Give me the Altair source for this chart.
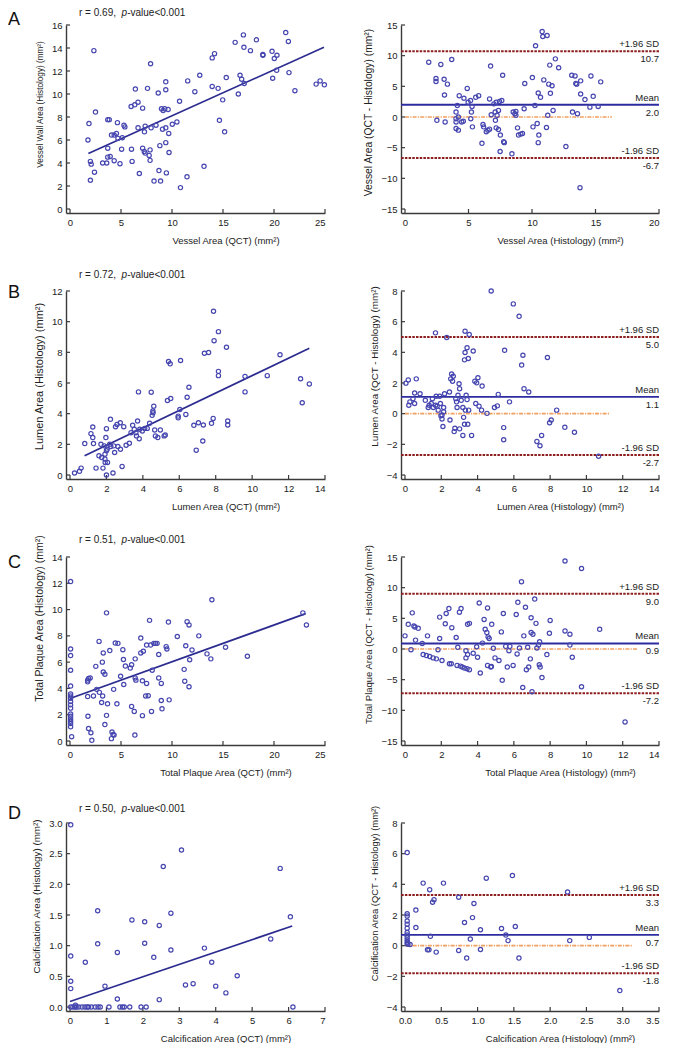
import altair as alt
import pandas as pd

# ---------------- data ----------------
letters = ["A", "B", "C", "D"]
r_values = ["0.69", "0.72", "0.51", "0.50"]

corr_x_titles = ["Vessel Area (QCT) (mm²)", "Lumen Area (QCT) (mm²)",
                 "Total Plaque Area (QCT) (mm²)", "Calcification Area (QCT) (mm²)"]
corr_y_titles = ["Vessel Wall Area (Histology) (mm²)", "Lumen Area (Histology) (mm²)",
                 "Total Plaque Area (Histology) (mm²)", "Calcification Area (Histology) (mm²)"]
ba_x_titles = ["Vessel Area (Histology) (mm²)", "Lumen Area (Histology) (mm²)",
               "Total Plaque Area (Histology) (mm²)", "Calcification Area (Histology) (mm²)"]
ba_y_titles = ["Vessel Area (QCT - Histology) (mm²)", "Lumen Area (QCT - Histology) (mm²)",
               "Total Plaque Area (QCT - Histology) (mm²)", "Calcification Area (QCT - Histology) (mm²)"]

corr_x_ticks = [[0, 5, 10, 15, 20, 25], [0, 2, 4, 6, 8, 10, 12, 14],
                [0, 5, 10, 15, 20, 25], [0, 1, 2, 3, 4, 5, 6, 7]]
corr_y_ticks = [[0, 2, 4, 6, 8, 10, 12, 14, 16], [0, 2, 4, 6, 8, 10, 12],
                [0, 2, 4, 6, 8, 10, 12, 14], [0, 0.5, 1.0, 1.5, 2.0, 2.5, 3.0]]
ba_x_ticks = [[0, 5, 10, 15, 20], [0, 2, 4, 6, 8, 10, 12, 14],
              [0, 2, 4, 6, 8, 10, 12, 14], [0, 0.5, 1.0, 1.5, 2.0, 2.5, 3.0, 3.5]]
ba_y_ticks = [[-15, -10, -5, 0, 5, 10, 15], [-4, -2, 0, 2, 4, 6, 8],
              [-15, -10, -5, 0, 5, 10, 15], [-4, -2, 0, 2, 4, 6, 8]]
corr_y_fmt = ["d", "d", "d", ".1f"]
ba_x_fmt = ["d", "d", "d", ".1f"]

fit_x = [[1.8, 24.9], [0.8, 13.14], [0.0, 23.1], [0.0, 6.1]]
fit_y = [[4.83, 14.06], [1.25, 8.27], [3.23, 9.69], [0.09, 1.32]]

ba_mean = [2.0, 1.1, 0.9, 0.7]
ba_upper = [10.7, 5.0, 9.0, 3.3]
ba_lower = [-6.7, -2.7, -7.2, -1.8]
ba_zero_end = [16.3, 11.3, 12.85, 3.13]

a_corr = [(2.34,13.77),(1.86,7.43),(1.76,6.0),(2.0,4.14),(2.08,3.9),(2.0,2.5),(2.4,3.2),(2.5,8.43),
          (3.2,4.0),(3.6,4.0),(3.7,7.77),(3.85,7.77),(3.7,5.29),(3.7,4.51),(3.94,4.57),(4.07,6.43),
          (4.33,6.43),(4.33,4.2),(4.55,6.57),(4.65,7.51),(4.7,6.14),(4.9,3.94),(5.06,5.2),(5.13,6.2),
          (5.29,7.29),(5.38,7.14),(5.99,8.91),(6.03,5.2),(6.09,4.14),(6.35,9.06),(6.41,10.43),(6.67,9.29),
          (6.67,7.06),(6.8,3.09),(7.12,8.77),(7.12,5.29),(7.28,5.0),(7.3,6.71),(7.37,7.2),(7.37,4.86),
          (7.6,10.49),(7.76,4.66),(7.85,4.23),(7.85,5.14),(7.9,12.63),(7.95,7.06),(8.24,2.43),(8.43,7.29),
          (8.65,10.09),(8.72,3.34),(8.81,5.51),(8.88,2.43),(8.97,8.71),(9.07,6.94),(9.13,8.57),(9.29,8.71),
          (9.39,7.06),(9.39,5.77),(9.39,10.37),(9.39,11.06),(9.45,3.14),(9.62,8.66),(9.68,6.57),(9.71,4.91),
          (10.03,7.37),(10.48,7.57),(10.74,9.37),(10.83,1.86),(11.47,2.8),(11.54,11.14),(12.24,10.2),
          (12.72,11.63),(13.14,3.71),(13.94,13.14),(13.94,10.66),(14.17,13.51),(14.52,10.49),(14.65,7.71),
          (14.97,9.49),(15.16,6.71),(15.32,11.43),(16.19,14.49),(16.5,10.0),(16.67,11.63),(16.83,11.29),
          (17.0,15.14),(17.05,14.06),(17.08,10.91),(17.69,13.77),(18.27,14.71),(18.91,13.43),(18.91,13.37),
          (19.81,13.71),(19.87,11.37),(20.03,13.09),(20.29,13.37),(20.26,12.06),(21.15,15.34),(21.41,14.57),
          (21.47,11.86),(22.05,10.29),(24.13,10.86),(24.52,11.14),(24.94,10.8)]

a_ba = [(1.87,8.94),(2.44,6.27),(2.44,5.78),(2.51,-0.54),(2.82,8.57),(3.08,6.16),(3.11,3.59),(3.16,-0.8),
        (3.34,5.36),(3.68,9.37),(4.02,0.8),(4.02,-0.27),(4.02,-0.8),(4.02,-1.87),(4.12,1.87),(4.2,-2.14),
        (4.27,3.48),(4.2,0.0),(4.46,-0.8),(4.59,-0.7),(4.64,3.05),(4.9,4.66),(4.97,2.41),(5.16,2.68),
        (5.23,0.8),(5.18,-0.27),(5.28,1.71),(5.31,-1.61),(5.57,3.21),(5.8,3.48),(6.06,-4.29),(6.14,-1.23),
        (6.19,-1.61),(6.4,-2.41),(6.53,-2.14),(6.66,-1.98),(6.66,2.95),(6.74,8.3),(6.79,0.37),(7.0,2.14),
        (7.1,0.8),(7.12,-0.54),(7.18,2.41),(7.18,-1.77),(7.25,0.27),(7.36,1.07),(7.36,-2.04),(7.44,2.52),
        (7.49,-5.62),(7.51,-2.95),(7.62,2.68),(7.69,6.8),(7.77,-4.02),(7.82,-4.18),(8.42,-6.0),(8.52,0.8),
        (8.65,0.54),(8.73,0.91),(8.73,0.27),(8.86,-1.77),(8.94,-2.95),(9.12,-2.79),(9.25,-2.68),(9.43,5.46),
        (9.38,1.34),(10.03,6.43),(10.08,-1.61),(10.23,1.87),(10.28,11.62),(10.41,-1.07),(10.49,3.91),
        (10.54,-2.95),(10.49,-4.18),(10.67,3.21),(10.8,13.93),(10.85,13.12),(10.93,6.05),(11.14,-1.71),
        (11.19,13.28),(11.24,0.27),(11.32,5.36),(11.4,8.46),(11.45,3.86),(11.58,5.09),(11.66,1.07),
        (11.84,9.48),(12.1,8.03),(12.67,-4.82),(13.13,6.8),(13.19,0.8),(13.39,6.7),(13.45,5.46),(13.52,5.36),
        (13.58,0.54),(13.78,-11.52),(13.83,5.89),(13.83,3.75),(14.17,2.84),(14.64,6.7),(14.56,1.61),
        (14.82,3.37),(15.21,1.71),(15.41,5.73)]

b_corr = [(0.25,0.13),(0.52,0.24),(0.61,0.45),(0.81,2.05),(1.15,2.7),(1.25,2.44),(1.25,3.13),(1.29,2.05),
          (1.43,0.45),(1.59,1.25),(1.7,2.0),(1.74,1.14),(1.81,0.45),(1.88,1.9),(1.92,1.36),(1.92,1.04),
          (1.93,0.82),(2.0,3.02),(1.97,2.44),(2.0,0.0),(2.04,1.68),(2.0,1.58),(2.06,0.82),(2.18,2.0),
          (2.22,3.63),(2.24,1.86),(2.36,0.13),(2.4,1.9),(2.45,1.47),(2.5,3.15),(2.58,3.3),(2.63,1.86),
          (2.76,3.41),(2.77,1.68),(2.86,0.56),(2.95,3.15),(3.08,1.94),(3.26,2.07),(3.35,2.76),(3.44,3.24),
          (3.53,2.98),(3.62,2.76),(3.65,2.55),(3.71,3.52),(3.76,5.42),(3.8,2.37),(3.83,2.98),(3.97,2.87),
          (4.1,3.04),(4.24,3.04),(4.37,3.37),(4.46,5.4),(4.51,3.89),(4.55,4.17),(4.6,4.49),(4.56,4.06),
          (4.65,2.94),(4.69,2.55),(4.82,2.44),(4.96,2.94),(5.17,2.55),(5.23,2.61),(5.35,4.86),(5.41,7.4),
          (5.5,7.25),(5.53,4.99),(5.94,3.84),(5.94,3.73),(6.03,4.27),(6.07,7.47),(6.36,3.95),(6.43,5.07),
          (6.53,5.72),(6.8,3.24),(6.93,1.62),(7.05,3.41),(7.29,2.22),(7.32,3.26),(7.38,7.94),(7.61,7.99),
          (7.77,3.37),(7.86,3.69),(7.88,10.68),(7.91,8.76),(8.15,9.35),(8.15,6.76),(8.15,6.48),(8.59,8.33),
          (8.66,3.52),(8.66,3.26),(9.61,6.43),(9.61,5.42),(10.83,6.48),(11.53,7.84),(12.66,6.28),
          (12.75,4.71),(13.14,5.94)]

b_ba = [(0.05,1.99),(0.18,2.2),(0.21,0.55),(0.27,0.77),(0.44,0.98),(0.53,1.35),(0.53,0.66),(0.62,2.27),
        (0.83,1.3),(1.12,0.87),(1.28,0.4),(1.33,0.55),(1.45,0.66),(1.51,0.98),(1.56,0.4),(1.68,5.27),
        (1.68,0.55),(1.72,1.13),(1.77,0.49),(1.83,0.23),(1.91,1.13),(1.95,0.66),(1.98,-0.13),(2.04,-0.35),
        (2.04,-0.09),(2.09,-0.84),(2.13,0.12),(2.13,0.4),(2.18,1.3),(2.3,4.97),(2.45,1.41),(2.48,-0.41),
        (2.52,2.27),(2.57,2.59),(2.62,2.12),(2.66,2.44),(2.71,-1.17),(2.75,-0.95),(2.8,0.98),(2.84,0.77),
        (2.87,0.4),(2.92,1.2),(2.98,1.95),(3.01,1.63),(3.01,-0.99),(3.1,0.87),(3.19,-1.42),(3.19,0.4),
        (3.23,-0.24),(3.28,3.51),(3.28,-0.69),(3.31,5.38),(3.31,3.99),(3.33,0.23),(3.37,1.2),(3.42,0.92),
        (3.42,4.3),(3.46,-0.69),(3.49,3.6),(3.51,0.23),(3.54,5.16),(3.67,-1.42),(3.76,4.09),(3.85,2.12),
        (3.9,0.66),(3.95,2.01),(4.02,2.34),(4.08,0.49),(4.22,0.23),(4.25,1.8),(4.52,0.02),(4.75,8.0),
        (4.93,0.4),(5.09,0.51),(5.14,1.26),(5.44,-0.91),(5.44,-1.7),(5.49,4.13),(5.76,0.77),(5.97,7.16),
        (6.29,6.35),(6.43,3.17),(6.5,3.81),(6.56,1.63),(6.82,1.41),(7.27,-1.81),(7.44,-2.09),(7.53,-1.42),
        (7.85,3.66),(7.97,-0.59),(8.06,-0.41),(8.36,0.23),(8.81,-0.89),(9.34,-1.21),(10.67,-2.78)]

c_corr = [(0.06,12.13),(0.06,7.0),(0.06,6.5),(0.06,5.38),(0.06,4.18),(0.06,3.58),(0.06,3.43),(0.06,3.25),
          (0.06,3.0),(0.06,2.75),(0.06,2.5),(0.06,2.05),(0.06,1.88),(0.06,1.68),(0.06,1.5),(0.06,1.33),
          (0.06,1.08),(0.16,0.33),(1.73,4.63),(1.82,4.75),(1.98,4.8),(1.73,4.5),(1.73,3.38),(1.76,1.88),
          (1.82,0.95),(2.05,0.63),(2.14,0.05),(2.3,3.43),(2.53,5.68),(2.62,3.93),(2.85,7.58),(2.88,3.7),
          (3.1,2.93),(3.17,6.0),(3.2,3.43),(3.26,6.7),(3.26,5.25),(3.42,5.08),(3.42,1.25),(3.58,9.75),
          (3.58,1.95),(3.68,2.83),(3.9,6.88),(4.06,0.18),(4.12,0.68),(4.22,0.5),(4.28,3.93),(4.32,0.45),
          (4.44,7.45),(4.7,7.43),(4.6,2.83),(4.96,4.93),(5.18,6.95),(5.24,6.2),(5.27,4.3),(5.43,5.7),
          (5.91,5.55),(6.04,5.8),(6.04,2.63),(6.3,2.25),(6.39,6.25),(6.39,4.8),(6.46,4.63),(6.36,0.45),
          (6.94,7.83),(6.94,6.7),(7.1,4.58),(7.1,1.93),(7.19,6.83),(7.51,4.38),(7.42,3.43),(7.51,7.3),
          (7.67,3.45),(7.8,9.18),(7.9,7.3),(7.99,2.25),(8.06,5.38),(8.22,7.43),(8.38,7.43),(8.54,7.43),
          (8.7,6.58),(8.7,4.8),(8.95,4.38),(8.95,3.08),(9.02,2.45),(9.43,7.18),(9.5,7.0),(9.65,9.05),
          (9.72,3.13),(10.52,7.95),(11.19,5.45),(11.25,4.55),(11.35,7.25),(11.48,9.08),(11.67,8.83),
          (11.67,4.13),(11.73,6.18),(11.96,6.93),(12.63,8.0),(13.43,6.63),(13.81,6.25),(13.91,10.75),
          (15.25,7.13),(17.39,6.45),(22.83,9.75),(23.18,8.83)]

c_ba = [(0.0,2.14),(0.18,4.02),(0.33,-0.11),(0.4,5.89),(0.49,3.75),(0.55,3.59),(0.58,1.45),(0.73,3.37),
        (0.95,0.91),(1.0,-0.91),(1.18,-1.07),(1.24,2.14),(1.36,-1.23),(1.55,-1.45),(1.73,-1.61),(1.82,-0.11),
        (1.91,1.71),(1.91,5.2),(2.04,-1.87),(2.22,4.12),(2.27,5.78),(2.42,6.59),(2.45,-2.41),(2.55,-2.41),
        (2.58,3.48),(2.82,1.87),(2.87,-2.68),(2.91,0.27),(3.0,6.0),(3.05,-2.79),(3.09,6.59),(3.15,-2.95),
        (3.27,-3.11),(3.36,-1.45),(3.36,-0.27),(3.42,-3.21),(3.45,-0.91),(3.45,4.02),(3.55,-3.37),(3.55,4.18),
        (3.76,-0.7),(3.95,0.37),(4.0,-1.34),(4.09,7.5),(4.15,-3.91),(4.27,0.96),(4.36,4.82),(4.42,3.21),
        (4.51,2.68),(4.55,6.7),(4.55,-2.68),(4.58,1.98),(4.64,1.71),(4.73,-2.95),(4.76,-2.84),(4.78,4.02),
        (4.87,0.11),(4.96,-1.45),(5.18,-1.87),(5.31,2.79),(5.36,-5.09),(5.42,5.78),(5.55,0.43),(5.64,-2.95),
        (5.73,-0.27),(5.78,0.43),(5.96,-2.68),(6.13,5.62),(6.18,-0.8),(6.22,7.61),(6.31,0.16),(6.42,10.98),
        (6.49,-6.27),(6.55,2.14),(6.64,6.8),(6.69,-3.37),(6.76,0.27),(6.82,-2.95),(6.91,-1.61),(6.95,5.09),
        (6.95,2.68),(7.0,-6.96),(7.05,2.41),(7.15,8.14),(7.22,4.18),(7.27,0.16),(7.36,0.64),(7.42,1.18),
        (7.4,-2.57),(7.45,-2.95),(7.55,-4.66),(7.82,-0.91),(8.0,4.66),(7.96,2.57),(8.82,14.35),(8.82,2.95),
        (9.09,2.41),(9.09,0.64),(9.22,-1.34),(9.73,13.12),(9.73,-6.16),(10.73,3.21),(12.13,-11.89)]

d_corr = [(0.02,2.97),(0.02,0.83),(0.02,0.42),(0.02,0.3),(0.02,0.0),(0.08,0.0),(0.14,0.0),(0.17,0.0),
          (0.24,0.0),(0.33,0.0),(0.41,0.0),(0.47,0.0),(0.51,0.0),(0.59,0.0),(0.69,0.0),(0.77,0.0),
          (0.83,0.0),(0.15,0.03),(0.42,0.73),(0.76,1.57),(0.76,1.03),(0.96,0.34),(1.07,0.0),(1.3,0.89),
          (1.3,0.13),(1.37,0.0),(1.44,0.0),(1.49,0.0),(1.64,0.0),(1.7,1.42),(1.95,0.0),(2.05,1.39),
          (2.05,1.04),(2.09,0.0),(2.3,0.81),(2.45,1.33),(2.45,0.12),(2.56,2.29),(2.77,1.53),(2.77,0.93),
          (3.06,2.56),(3.17,0.36),(3.38,0.38),(3.69,0.96),(3.89,0.73),(4.0,0.34),(4.28,0.23),(4.59,0.51),
          (5.51,1.11),(5.77,2.26),(6.05,1.47),(6.12,0.0)]

d_ba = [(0.03,6.07),(0.03,2.08),(0.03,1.93),(0.03,1.61),(0.03,1.4),(0.03,1.14),(0.03,0.86),(0.03,0.69),
        (0.03,0.54),(0.03,0.37),(0.03,0.22),(0.03,0.11),(0.04,0.11),(0.07,0.07),(0.15,2.32),(0.15,1.18),
        (0.25,4.08),(0.31,-0.27),(0.33,-0.27),(0.34,3.65),(0.35,0.61),(0.38,2.83),(0.4,3.0),(0.43,-0.42),
        (0.53,4.08),(0.74,3.16),(0.74,-0.31),(0.82,1.51),(0.85,-0.81),(0.9,0.43),(0.93,1.83),(0.95,2.75),
        (1.04,1.04),(1.04,-0.25),(1.12,4.4),(1.33,1.12),(1.39,0.69),(1.42,0.33),(1.52,1.25),(1.48,4.57),
        (1.57,-0.81),(2.24,3.5),(2.27,0.33),(2.54,0.54),(2.96,-2.93)]

corr_points = [a_corr, b_corr, c_corr, d_corr]
ba_points = [a_ba, b_ba, c_ba, d_ba]

# ---------------- style ----------------
FONT = "Liberation Sans"
PT = "#4646b0"
FIT = "#2c2c90"
MEAN = "#2c2ca0"
SD = "#8e1f1f"
ZERO = "#f2a060"
AXC = "#3a3a3a"
TXT = "#222222"
W_L, W_R, H = 259, 258, 188
PAD = 4

letter_dy = [0, 7, 11, -4]
r_dy = [-9, -13, -14, -11]
corr_ytitle_shift = [-15, -9, -33, -21]
ba_ytitle_shift = [-7, -19, -17, -24]
corr_ytitle_size = [8.2, 11.0, 10.5, 9.8]
ba_ytitle_size = [10.3, 9.8, 9.5, 9.4]


def dom(ticks, px):
    lo, hi = ticks[0], ticks[-1]
    p = (hi - lo) * PAD / (px - PAD)
    return [lo - p, hi]


def axis(values, title, fmt, along, shift, W, tsize=9.5):
    kw = dict(values=values, title=title, format=fmt, ticks=False, grid=False,
              labelPadding=4, titleFontSize=tsize)
    if along == "x":
        kw.update(titleX=W / 2 + 30, titlePadding=9)
    else:
        kw.update(titleY=H / 2 + shift, titlePadding=7)
    return alt.Axis(**kw)


def build(points, xs, ys, xax, yax, xt, yt, extra_before, extra_after, W):
    df = pd.DataFrame(points, columns=["x", "y"])
    pts = alt.Chart(df).mark_point(shape="circle", filled=False, size=18, strokeWidth=1.2,
                                   color=PT, opacity=1).encode(
        x=alt.X("x:Q", scale=xs, axis=xax), y=alt.Y("y:Q", scale=ys, axis=yax))
    tx = alt.Chart(pd.DataFrame({"x": xt})).mark_rule(color=AXC, strokeWidth=1.2).encode(
        x=alt.X("x:Q", scale=xs, axis=xax), y=alt.value(H), y2=alt.value(H - 4))
    ty = alt.Chart(pd.DataFrame({"y": yt})).mark_rule(color=AXC, strokeWidth=1.2).encode(
        y=alt.Y("y:Q", scale=ys, axis=yax), x=alt.value(0), x2=alt.value(4))
    layers = [l(xs, ys, xax, yax) for l in extra_before] + [tx, ty, pts] + \
             [l(xs, ys, xax, yax) for l in extra_after]
    return alt.layer(*layers).properties(width=W, height=H)


def corr_panel(i):
    xs = alt.Scale(domain=dom(corr_x_ticks[i], W_L), nice=False, zero=False)
    ys = alt.Scale(domain=dom(corr_y_ticks[i], H), nice=False, zero=False)
    xax = axis(corr_x_ticks[i], corr_x_titles[i], "d", "x", 0, W_L)
    yax = axis(corr_y_ticks[i], corr_y_titles[i], corr_y_fmt[i], "y", corr_ytitle_shift[i], W_L,
               corr_ytitle_size[i])

    def fit(xs, ys, xax, yax):
        return alt.Chart(pd.DataFrame({"x": fit_x[i], "y": fit_y[i]})).mark_line(
            color=FIT, strokeWidth=1.7).encode(
            x=alt.X("x:Q", scale=xs, axis=xax), y=alt.Y("y:Q", scale=ys, axis=yax))

    tdf = pd.DataFrame({"a": [f"r = {r_values[i]},"], "p": ["p"], "b": ["-value<0.001"],
                        "L": [letters[i]]})

    def texts(xs, ys, xax, yax):
        base = alt.Chart(tdf)
        t1 = base.mark_text(align="left", baseline="alphabetic", font=FONT, fontSize=10,
                            color=TXT).encode(text="a:N", x=alt.value(13), y=alt.value(r_dy[i]))
        t2 = base.mark_text(align="left", baseline="alphabetic", font=FONT, fontSize=10,
                            fontStyle="italic", color=TXT).encode(
            text="p:N", x=alt.value(55.6), y=alt.value(r_dy[i]))
        t3 = base.mark_text(align="left", baseline="alphabetic", font=FONT, fontSize=10,
                            color=TXT).encode(text="b:N", x=alt.value(61.2), y=alt.value(r_dy[i]))
        let = base.mark_text(align="left", baseline="alphabetic", font=FONT, fontSize=18,
                             color="#111").encode(text="L:N", x=alt.value(-58),
                                                  y=alt.value(letter_dy[i]))
        return alt.layer(t1, t2, t3, let)

    return build(corr_points[i], xs, ys, xax, yax, corr_x_ticks[i], corr_y_ticks[i],
                 [fit], [texts], W_L)


def ba_panel(i):
    xs = alt.Scale(domain=dom(ba_x_ticks[i], W_R), nice=False, zero=False)
    ys = alt.Scale(domain=dom(ba_y_ticks[i], H), nice=False, zero=False)
    xax = axis(ba_x_ticks[i], ba_x_titles[i], ba_x_fmt[i], "x", 0, W_R)
    yax = axis(ba_y_ticks[i], ba_y_titles[i], "d", "y", ba_ytitle_shift[i], W_R, ba_ytitle_size[i])
    ldf = pd.DataFrame({"y": [ba_upper[i], ba_mean[i], ba_lower[i]],
                        "name": ["+1.96 SD", "Mean", "-1.96 SD"],
                        "val": [f"{ba_upper[i]:.1f}", f"{ba_mean[i]:.1f}", f"{ba_lower[i]:.1f}"],
                        "kind": ["sd", "mean", "sd"]})

    def lines(xs, ys, xax, yax):
        zero = alt.Chart(pd.DataFrame({"x": [0.0], "x1": [ba_zero_end[i]], "y": [0.0]})).mark_rule(
            color=ZERO, strokeWidth=1.7, strokeDash=[4, 1.2, 1.2, 1.2]).encode(
            x=alt.X("x:Q", scale=xs, axis=xax), x2="x1:Q", y=alt.Y("y:Q", scale=ys, axis=yax))
        sd = alt.Chart(ldf[ldf.kind == "sd"]).mark_rule(color=SD, strokeWidth=2.0,
                                                         strokeDash=[2.5, 1.2]).encode(
            y=alt.Y("y:Q", scale=ys, axis=yax))
        mean = alt.Chart(ldf[ldf.kind == "mean"]).mark_rule(color=MEAN, strokeWidth=1.8).encode(
            y=alt.Y("y:Q", scale=ys, axis=yax))
        return alt.layer(zero, sd, mean)

    def labels(xs, ys, xax, yax):
        nm = alt.Chart(ldf).mark_text(align="right", baseline="bottom", dy=-2, font=FONT,
                                      fontSize=9.5, color=TXT).encode(
            y=alt.Y("y:Q", scale=ys, axis=yax), x=alt.value(W_R), text="name:N")
        vl = alt.Chart(ldf).mark_text(align="right", baseline="top", dy=3, font=FONT,
                                      fontSize=9.5, color=TXT).encode(
            y=alt.Y("y:Q", scale=ys, axis=yax), x=alt.value(W_R), text="val:N")
        return alt.layer(nm, vl)

    return build(ba_points[i], xs, ys, xax, yax, ba_x_ticks[i], ba_y_ticks[i],
                 [lines], [labels], W_R)


panels = []
for i in range(4):
    panels.append(corr_panel(i))
    panels.append(ba_panel(i))

chart = alt.concat(*panels, columns=2, spacing={"row": 78, "column": 76}, bounds="flush").properties(
    padding={"left": 0, "top": 0, "right": 0, "bottom": 0}
).configure_view(stroke=None).configure_axis(
    domainColor=AXC, domainWidth=1.4, labelColor=TXT, labelFont=FONT, labelFontSize=9.5,
    titleFont=FONT, titleFontWeight="normal", titleColor=TXT
)

chart.save("out.html", embed_options={"renderer": "svg", "actions": False})
